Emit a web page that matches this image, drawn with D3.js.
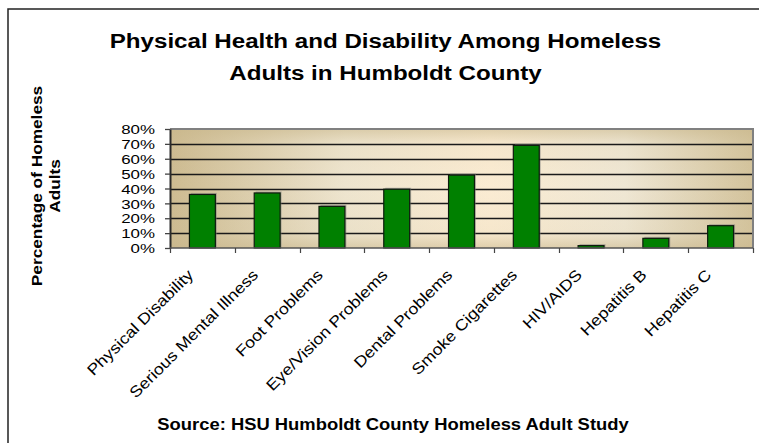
<!DOCTYPE html>
<html>
<head>
<meta charset="utf-8">
<script src="https://cdn.jsdelivr.net/npm/d3@7"></script>
<style>
  body { margin: 0; background: #fff; }
  text { font-family: "Liberation Sans", Arial, sans-serif; fill: #000; }
</style>
</head>
<body>
<div id="chart"></div>
<script>
// chart data
var categories = ["Physical Disability", "Serious Mental Illness", "Foot Problems",
    "Eye/Vision Problems", "Dental Problems", "Smoke Cigarettes", "HIV/AIDS",
    "Hepatitis B", "Hepatitis C"];
var percents = [0.36, 0.37, 0.28, 0.395, 0.49, 0.69, 0.016, 0.065, 0.15];
var yTicks = [0, 0.1, 0.2, 0.3, 0.4, 0.5, 0.6, 0.7, 0.8];
var titleLines = ["Physical Health and Disability Among Homeless", "Adults in Humboldt County"];
var yTitleLines = ["Percentage of Homeless", "Adults"];
var sourceText = "Source: HSU Humboldt County Homeless Adult Study";

var W = 759, H = 443;
var plot = { left: 170, top: 129, right: 753, bottom: 248 };
var SX = 1.15; // glyphs in the picture are a bit wider than Arial

var svg = d3.select("#chart").append("svg")
    .attr("width", W)
    .attr("height", H);

var defs = svg.append("defs");
var hGrad = defs.append("linearGradient").attr("id", "bgH")
    .attr("x1", "0").attr("y1", "0").attr("x2", "1").attr("y2", "0");
[["0%", "#cdbb91"], ["30%", "#eee5cf"], ["55%", "#fbecd3"], ["78%", "#efe7d4"], ["100%", "#d3c39c"]]
    .forEach(function (s) { hGrad.append("stop").attr("offset", s[0]).attr("stop-color", s[1]); });
var vGrad = defs.append("linearGradient").attr("id", "bgV")
    .attr("x1", "0").attr("y1", "0").attr("x2", "0").attr("y2", "1");
[["0%", 0.55], ["12%", 0.1], ["50%", 0], ["88%", 0.1], ["100%", 0.55]]
    .forEach(function (s) {
        vGrad.append("stop").attr("offset", s[0]).attr("stop-color", "#c8b68a").attr("stop-opacity", s[1]);
    });

// outer chart frame (runs off the right and bottom of the picture)
svg.append("rect")
    .attr("x", 8).attr("y", 9)
    .attr("width", W + 20).attr("height", H + 20)
    .attr("fill", "#fff")
    .attr("stroke", "#222")
    .attr("stroke-width", 1.5);

var x = d3.scaleBand()
    .domain(categories)
    .range([plot.left, plot.right])
    .paddingInner(0.6)
    .paddingOuter(0.3);
var y = d3.scaleLinear()
    .domain([0, 0.8])
    .range([plot.bottom, plot.top]);

var g = svg.append("g");
g.append("rect")
    .attr("x", plot.left).attr("y", plot.top)
    .attr("width", plot.right - plot.left).attr("height", plot.bottom - plot.top)
    .attr("fill", "url(#bgH)");
g.append("rect")
    .attr("x", plot.left).attr("y", plot.top)
    .attr("width", plot.right - plot.left).attr("height", plot.bottom - plot.top)
    .attr("fill", "url(#bgV)");

// gridlines
g.selectAll("line.grid")
    .data(yTicks.filter(function (t) { return t > 0 && t < 0.8; }))
    .enter().append("line")
    .attr("class", "grid")
    .attr("x1", plot.left).attr("x2", plot.right)
    .attr("y1", function (d) { return Math.round(y(d)) + 0.5; })
    .attr("y2", function (d) { return Math.round(y(d)) + 0.5; })
    .attr("stroke", "#1a1a1a")
    .attr("stroke-width", 1.3);

// top and right border of plot area
g.append("path")
    .attr("d", "M" + plot.left + "," + plot.top + "H" + plot.right + "V" + plot.bottom)
    .attr("fill", "none")
    .attr("stroke", "#808080")
    .attr("stroke-width", 2);

// bars with a faint shadow
g.selectAll("rect.shadow")
    .data(percents)
    .enter().append("rect")
    .attr("class", "shadow")
    .attr("x", function (d, i) { return x(categories[i]) + 1.5; })
    .attr("y", function (d) { return y(d) - 1.5; })
    .attr("width", x.bandwidth())
    .attr("height", function (d) { return plot.bottom - y(d) + 1.5; })
    .attr("fill", "#7a7a7a")
    .attr("opacity", 0.5);
g.selectAll("rect.bar")
    .data(percents)
    .enter().append("rect")
    .attr("class", "bar")
    .attr("x", function (d, i) { return x(categories[i]); })
    .attr("y", function (d) { return y(d); })
    .attr("width", x.bandwidth())
    .attr("height", function (d) { return plot.bottom - y(d); })
    .attr("fill", "#008000")
    .attr("stroke", "#0d1a0d")
    .attr("stroke-width", 1.2);

// y axis
var yAxis = d3.axisLeft(y)
    .tickValues(yTicks)
    .tickFormat(d3.format(".0%"))
    .tickSize(5)
    .tickSizeOuter(0);
var ya = svg.append("g")
    .attr("transform", "translate(" + plot.left + ",0)")
    .call(yAxis);
ya.select(".domain").attr("stroke", "#2a2a2a").attr("stroke-width", 2);
ya.selectAll(".tick line").attr("stroke", "#444").attr("stroke-width", 1.3);
ya.selectAll(".tick text")
    .attr("x", null)
    .attr("dy", "0.36em")
    .attr("transform", "translate(-15,0) scale(1.3,1)")
    .style("font-size", "13px")
    .style("font-family", "'Liberation Sans', Arial, sans-serif")
    .attr("fill", "#000");

// x axis: ticks on band boundaries
var xBounds = categories.map(function (c) { return x(c) - x.step() * x.paddingInner() / 2; });
xBounds[0] = plot.left;
xBounds.push(plot.right);
var xa = svg.append("g");
xa.append("line")
    .attr("x1", plot.left).attr("x2", plot.right)
    .attr("y1", plot.bottom).attr("y2", plot.bottom)
    .attr("stroke", "#555").attr("stroke-width", 1.5);
xa.selectAll("line.xt")
    .data(xBounds)
    .enter().append("line")
    .attr("class", "xt")
    .attr("x1", function (d) { return Math.round(d) + 0.5; })
    .attr("x2", function (d) { return Math.round(d) + 0.5; })
    .attr("y1", plot.bottom).attr("y2", plot.bottom + 5)
    .attr("stroke", "#444").attr("stroke-width", 1.2);
xa.selectAll("text")
    .data(categories)
    .enter().append("text")
    .attr("transform", function (d) {
        var cx = x(d) + x.bandwidth() / 2;
        return "translate(" + (cx - 12) + "," + (plot.bottom + 24) + ") rotate(-45) scale(" + SX + ",1)";
    })
    .attr("text-anchor", "end")
    .attr("dy", "0.35em")
    .style("font-size", "15.5px")
    .text(function (d) { return d; });

// title
svg.selectAll("text.title")
    .data(titleLines)
    .enter().append("text")
    .attr("class", "title")
    .attr("transform", function (d, i) { return "translate(385.5," + (48 + i * 32) + ") scale(" + SX + ",1)"; })
    .attr("text-anchor", "middle")
    .style("font-size", "21px")
    .style("font-weight", "bold")
    .text(function (d) { return d; });

// y axis title
svg.selectAll("text.ytitle")
    .data(yTitleLines)
    .enter().append("text")
    .attr("class", "ytitle")
    .attr("transform", function (d, i) { return "translate(" + (42 + i * 18) + ",186) rotate(-90) scale(" + SX + ",1)"; })
    .attr("text-anchor", "middle")
    .style("font-size", "15px")
    .style("font-weight", "bold")
    .text(function (d) { return d; });

// source note
svg.append("text")
    .attr("transform", "translate(393,430) scale(" + SX + ",1)")
    .attr("text-anchor", "middle")
    .style("font-size", "16px")
    .style("font-weight", "bold")
    .text(sourceText);
</script>
</body>
</html>
